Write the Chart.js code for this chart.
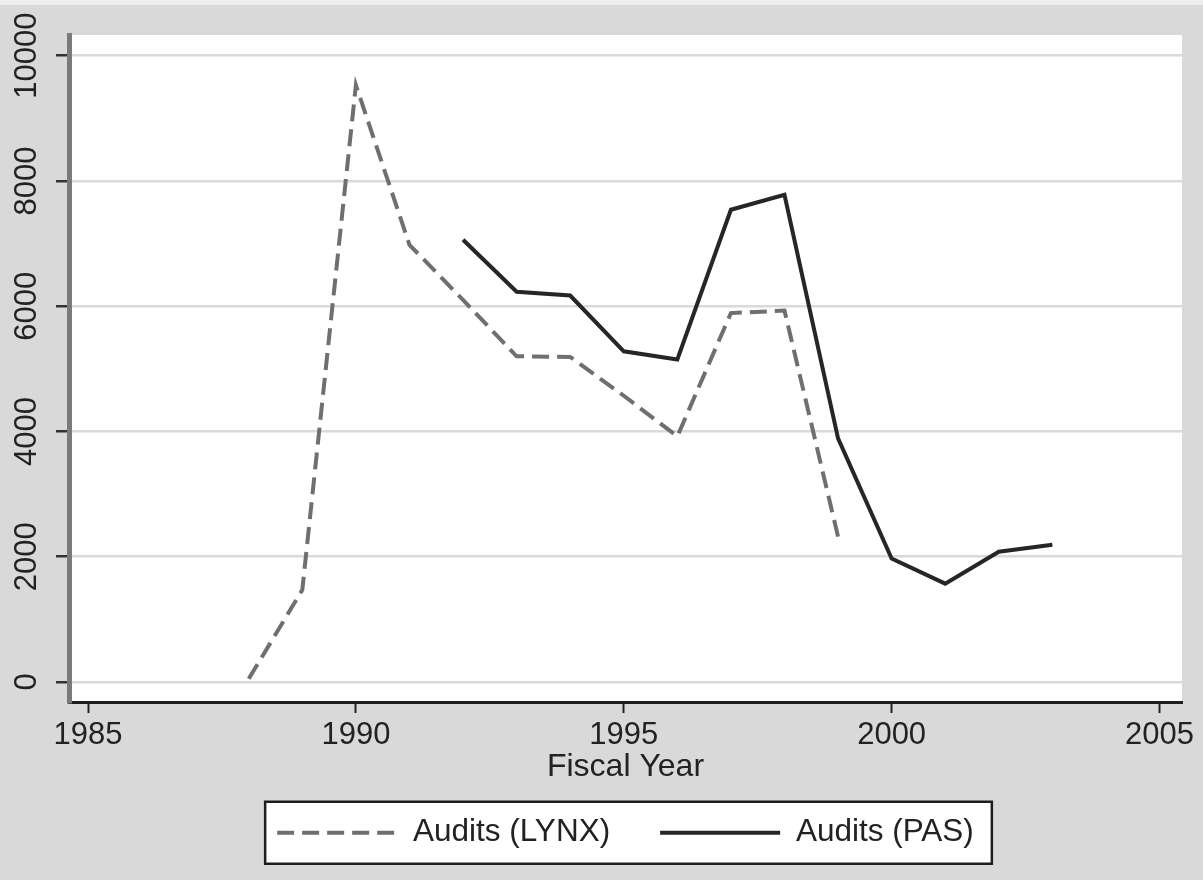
<!DOCTYPE html>
<html>
<head>
<meta charset="utf-8">
<script src="https://cdn.jsdelivr.net/npm/chart.js@4/dist/chart.umd.min.js"></script>
<style>
  html, body { margin: 0; padding: 0; background: #d9d9d9; }
  #wrap { width: 1203px; height: 880px; }
</style>
</head>
<body>
<div id="wrap"><canvas id="c" width="1203" height="880"></canvas></div>
<script>
// ---- data ----
const lynxYears  = [1988, 1989, 1990, 1991, 1992, 1993, 1994, 1995, 1996, 1997, 1998, 1999];
const lynxAudits = [50, 1470, 9530, 6980, 6100, 5200, 5190, 4570, 3920, 5890, 5930, 2320];
const pasYears   = [1992, 1993, 1994, 1995, 1996, 1997, 1998, 1999, 2000, 2001, 2002, 2003];
const pasAudits  = [7060, 6230, 6170, 5280, 5150, 7540, 7780, 3890, 1970, 1570, 2080, 2190];
const seriesLabels = ['Audits (LYNX)', 'Audits (PAS)'];
const xTicks = [1985, 1990, 1995, 2000, 2005];
const yTicks = [0, 2000, 4000, 6000, 8000, 10000];
const xTitle = 'Fiscal Year';

const FONT = "'Liberation Sans', Arial, Helvetica, sans-serif";
const TEXT = '#222222';
const TICK_SIZE = 31;
const LABEL_SIZE = 31.5;

const toPoints = (xs, ys) => xs.map((x, i) => ({ x: x, y: ys[i] }));

const backdrop = {
  id: 'backdrop',
  beforeDraw(chart) {
    const { ctx, chartArea: a, width, height } = chart;
    ctx.save();
    ctx.fillStyle = '#d9d9d9';
    ctx.fillRect(0, 0, width, height);
    ctx.fillStyle = '#eeeeee';
    ctx.fillRect(0, 0, width, 5);
    ctx.fillStyle = '#ffffff';
    ctx.fillRect(a.left, a.top, a.right - a.left, a.bottom - a.top);
    const hb = chart.legend && chart.legend.legendHitBoxes;
    if (hb && hb.length) {
      const last = hb[hb.length - 1];
      const cy = hb[0].top + LABEL_SIZE / 2;
      const l = hb[0].left - 12;
      const r = last.left + last.width + 18;
      const t = cy - 31;
      const b = cy + 31;
      ctx.fillStyle = '#ffffff';
      ctx.fillRect(l, t, r - l, b - t);
      ctx.strokeStyle = '#1e1e1e';
      ctx.lineWidth = 2.5;
      ctx.strokeRect(l, t, r - l, b - t);
    }
    ctx.restore();
  }
};

new Chart(document.getElementById('c'), {
  type: 'line',
  data: {
    datasets: [
      {
        label: seriesLabels[0],
        data: toPoints(lynxYears, lynxAudits),
        borderColor: '#6f6f6f',
        backgroundColor: '#6f6f6f',
        borderWidth: 4,
        borderDash: [17, 8],
        pointRadius: 0,
        tension: 0,
        fill: false
      },
      {
        label: seriesLabels[1],
        data: toPoints(pasYears, pasAudits),
        borderColor: '#262626',
        backgroundColor: '#262626',
        borderWidth: 4,
        pointRadius: 0,
        tension: 0,
        fill: false
      }
    ]
  },
  options: {
    responsive: false,
    animation: false,
    devicePixelRatio: 1,
    layout: { padding: { top: 35, right: 21, left: 0, bottom: 21.5 } },
    plugins: {
      tooltip: { enabled: false },
      legend: {
        position: 'bottom',
        fullSize: false,
        labels: {
          font: { family: FONT, size: LABEL_SIZE },
          color: TEXT,
          usePointStyle: true,
          pointStyle: 'line',
          pointStyleWidth: 120,
          boxHeight: LABEL_SIZE,
          padding: 50,
          generateLabels(chart) {
            return chart.data.datasets.map((ds, i) => ({
              text: ds.label,
              datasetIndex: i,
              hidden: !chart.isDatasetVisible(i),
              fillStyle: ds.borderColor,
              strokeStyle: ds.borderColor,
              lineWidth: ds.borderWidth,
              lineDash: ds.borderDash || [],
              lineCap: 'butt',
              pointStyle: 'line',
              fontColor: TEXT
            }));
          }
        }
      }
    },
    scales: {
      x: {
        type: 'linear',
        min: 1984.645,
        max: 2005.42,
        afterBuildTicks: s => { s.ticks = xTicks.map(v => ({ value: v })); },
        afterFit: s => { s.height = 65; },
        grid: { drawOnChartArea: false, drawTicks: true, tickLength: 11, tickColor: '#222', tickWidth: 2 },
        border: { color: '#1e1e1e', width: 3 },
        ticks: {
          autoSkip: false, maxRotation: 0, minRotation: 0, padding: 4,
          color: TEXT, font: { family: FONT, size: TICK_SIZE },
          callback: v => String(v)
        },
        title: {
          display: true, text: xTitle, color: TEXT,
          font: { family: FONT, size: 32, lineHeight: 1 },
          padding: { top: 0, bottom: -16 }
        }
      },
      y: {
        type: 'linear',
        min: -320,
        max: 10330,
        afterBuildTicks: s => { s.ticks = yTicks.map(v => ({ value: v })); },
        afterFit: s => { s.width = 69; },
        grid: { color: '#dadada', lineWidth: 2.5, tickColor: '#333', tickLength: 13, tickWidth: 2.5 },
        border: { color: '#7a7a7a', width: 5 },
        ticks: {
          minRotation: 90, maxRotation: 90, crossAlign: 'center', padding: -15,
          color: TEXT, font: { family: FONT, size: TICK_SIZE },
          callback: v => String(v)
        }
      }
    }
  },
  plugins: [backdrop]
});
</script>
</body>
</html>
